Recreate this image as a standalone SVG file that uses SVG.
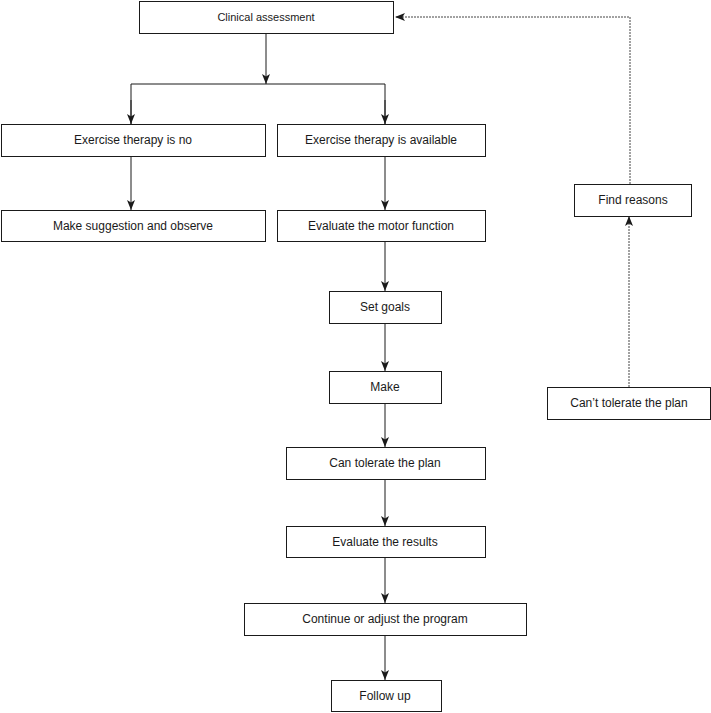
<svg xmlns="http://www.w3.org/2000/svg" width="711" height="713" viewBox="0 0 711 713">
<style>
.box{fill:#fff;stroke:#1a1a1a;stroke-width:1}
.t{font-family:"Liberation Sans",Arial,sans-serif;font-size:12px;fill:#1a1a1a;text-anchor:middle;dominant-baseline:central}
.c{fill:none;stroke:#1a1a1a;stroke-width:1}
.d{fill:none;stroke:#444;stroke-width:1;stroke-dasharray:2,1}
</style>
<defs>
<marker id="ah" viewBox="0 0 10 10" refX="10" refY="5" markerWidth="10" markerHeight="10" markerUnits="userSpaceOnUse" orient="auto">
<path d="M0,1 L10,5 L0,9 L2.5,5 Z" fill="#1a1a1a"/>
</marker>
</defs>
<rect width="711" height="713" fill="#fff"/>
<g id="connectors">
<path class="c" d="M266,33 V84" marker-end="url(#ah)"/>
<path class="c" d="M131,124 V84 H385 V124" />
<path class="c" d="M131,100 V124" marker-end="url(#ah)"/>
<path class="c" d="M385,100 V124" marker-end="url(#ah)"/>
<path class="c" d="M131,156 V210" marker-end="url(#ah)"/>
<path class="c" d="M385,156 V210" marker-end="url(#ah)"/>
<path class="c" d="M385,241 V291" marker-end="url(#ah)"/>
<path class="c" d="M385,323 V371" marker-end="url(#ah)"/>
<path class="c" d="M385,403 V447" marker-end="url(#ah)"/>
<path class="c" d="M385,479 V526" marker-end="url(#ah)"/>
<path class="c" d="M385,557 V603" marker-end="url(#ah)"/>
<path class="c" d="M385,635 V680" marker-end="url(#ah)"/>
<path class="d" d="M629,387 V216" marker-end="url(#ah)"/>
<path class="d" d="M630,184 V17 H395" marker-end="url(#ah)"/>
</g>
<g id="n1"><rect class="box" x="139.5" y="1.5" width="254" height="32"/><text class="t" x="266" y="17" style="font-size:11px">Clinical assessment</text></g>
<g id="n2"><rect class="box" x="1.5" y="124.5" width="264" height="32"/><text class="t" x="133" y="140">Exercise therapy is no</text></g>
<g id="n3"><rect class="box" x="277.5" y="124.5" width="208" height="32"/><text class="t" x="381" y="140">Exercise therapy is available</text></g>
<g id="n4"><rect class="box" x="1.5" y="210.5" width="264" height="31"/><text class="t" x="133" y="226">Make suggestion and observe</text></g>
<g id="n5"><rect class="box" x="277.5" y="210.5" width="208" height="31"/><text class="t" x="381" y="226">Evaluate the motor function</text></g>
<g id="n6"><rect class="box" x="329.5" y="291.5" width="112" height="32"/><text class="t" x="385" y="307">Set goals</text></g>
<g id="n7"><rect class="box" x="329.5" y="371.5" width="112" height="32"/><text class="t" x="385" y="387">Make</text></g>
<g id="n8"><rect class="box" x="286.5" y="447.5" width="199" height="32"/><text class="t" x="385" y="463">Can tolerate the plan</text></g>
<g id="n9"><rect class="box" x="286.5" y="526.5" width="199" height="31"/><text class="t" x="385" y="542">Evaluate the results</text></g>
<g id="n10"><rect class="box" x="244.5" y="603.5" width="282" height="32"/><text class="t" x="385" y="619">Continue or adjust the program</text></g>
<g id="n11"><rect class="box" x="331.5" y="680.5" width="110" height="31"/><text class="t" x="385" y="696">Follow up</text></g>
<g id="n12"><rect class="box" x="574.5" y="184.5" width="117" height="32"/><text class="t" x="633" y="200">Find reasons</text></g>
<g id="n13"><rect class="box" x="547.5" y="387.5" width="163" height="32"/><text class="t" x="629" y="403">Can’t tolerate the plan</text></g>
</svg>
